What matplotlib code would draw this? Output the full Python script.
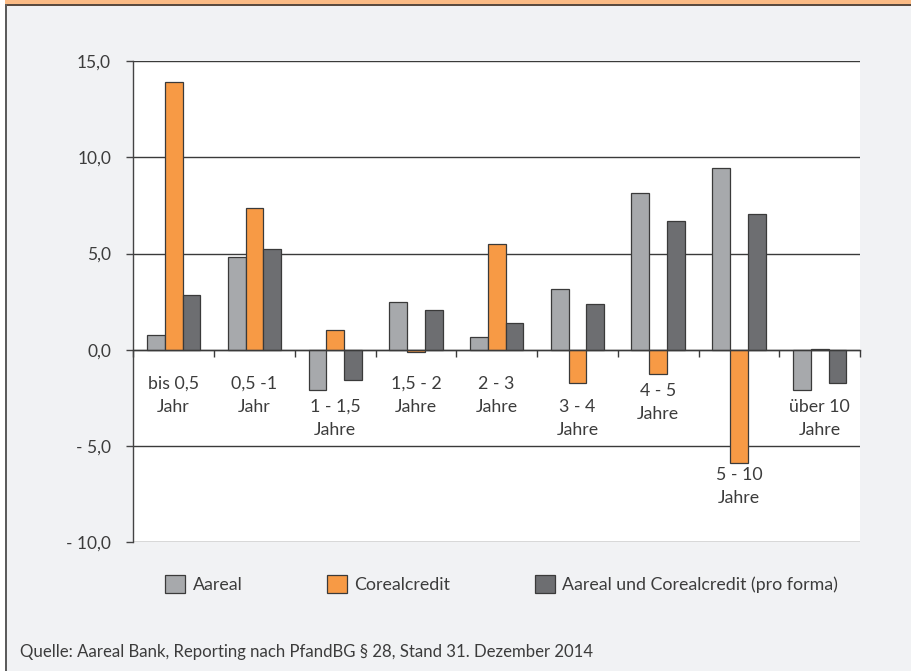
import matplotlib
matplotlib.use("Agg")
import matplotlib.pyplot as plt
from matplotlib.patches import Patch, Rectangle
import numpy as np

plt.rcParams['font.family'] = ['Lato', 'DejaVu Sans']

# categories (Restlaufzeit) and values in %
categories = ["bis 0,5\nJahr", "0,5 -1\nJahr", "1 - 1,5\nJahre", "1,5 - 2\nJahre",
              "2 - 3\nJahre", "3 - 4\nJahre", "4 - 5\nJahre", "5 - 10\nJahre",
              "über 10\nJahre"]
aareal = [0.78, 4.8, -2.08, 2.47, 0.64, 3.18, 8.16, 9.46, -2.08]
corealcredit = [13.9, 7.36, 1.04, -0.1, 5.52, -1.74, -1.25, -5.9, 0.05]
pro_forma = [2.83, 5.22, -1.58, 2.08, 1.4, 2.4, 6.68, 7.07, -1.74]
series_names = ["Aareal", "Corealcredit", "Aareal und Corealcredit (pro forma)"]
yticks = [-10, -5, 0, 5, 10, 15]

# layout: top of each category label (data units)
label_top = [-1.35, -1.35, -2.55, -1.35, -1.35, -2.55, -1.7, -6.1, -2.55]

colors = ["#a7a9ac", "#f79a45", "#6d6e71"]
edge = "#3a3a3a"
txt = "#3c3c3c"
bg = "#f1f2f4"

fig = plt.figure(figsize=(9.11, 6.71), dpi=100, facecolor="white")
W, H = 911.0, 671.0
# panel background, orange top band and frame lines
fig.patches.append(Rectangle((6 / W, 0), 1, 1 - 6 / H, transform=fig.transFigure,
                             facecolor=bg, edgecolor="none", zorder=-10))
fig.patches.append(Rectangle((5 / W, 1 - 4 / H), 1, 4 / H, transform=fig.transFigure,
                             facecolor="#fbbb85", edgecolor="none", zorder=-9))
fig.patches.append(Rectangle((5 / W, 1 - 6 / H), 1, 2 / H, transform=fig.transFigure,
                             facecolor="#5a4b40", edgecolor="none", zorder=-9))
fig.patches.append(Rectangle((4.5 / W, 0), 2 / W, 1 - 4 / H, transform=fig.transFigure,
                             facecolor="#5c5c5c", edgecolor="none", zorder=-9))

ax = fig.add_axes([133.3 / W, 1 - 542.3 / H, (860 - 133.3) / W, (542.3 - 61) / H])
ax.set_facecolor("white")

x = np.arange(len(categories))
w = 0.22
for i, (vals, c, name) in enumerate(zip([aareal, corealcredit, pro_forma], colors, series_names)):
    ax.bar(x + (i - 1) * w, vals, width=w, color=c, edgecolor=edge, linewidth=0.9,
           label=name, zorder=3)

ax.set_xlim(-0.5, len(categories) - 0.5)
ax.set_ylim(-10, 15)
ax.set_yticks(yticks)
ax.set_yticklabels([("- " if v < 0 else "") + f"{abs(v):.1f}".replace(".", ",") for v in yticks],
                   fontsize=12.5, color=txt)
ax.yaxis.grid(True, color="#3a3a3a", linewidth=1.0, zorder=1)
ax.set_axisbelow(True)

for s in ["top", "right"]:
    ax.spines[s].set_visible(False)
ax.spines["left"].set_color("#444444")
ax.spines["left"].set_linewidth(1.0)
ax.spines["bottom"].set_position(("data", 0))
ax.spines["bottom"].set_color("#3a3a3a")
ax.spines["bottom"].set_linewidth(1.0)
ax.spines["bottom"].set_zorder(4)

ax.set_xticks(np.arange(len(categories) + 1) - 0.5)
ax.set_xticklabels([])
ax.tick_params(axis="x", direction="out", length=5, width=1.0, color="#3a3a3a")
ax.tick_params(axis="y", direction="out", length=5, width=1.0, color="#444444", pad=11)

for xi, lab, yt in zip(x, categories, label_top):
    ax.text(xi, yt, lab, ha="center", va="top", fontsize=12.8, color=txt,
            linespacing=1.55)

handles = [Patch(facecolor=c, edgecolor=edge, linewidth=0.9) for c in colors]
fig.legend(handles, series_names, loc="center", bbox_to_anchor=(501.5 / W, 1 - 584 / H),
           ncol=3, frameon=False, fontsize=12.8, handlelength=1.15, handleheight=1.25,
           handletextpad=0.4, columnspacing=4.75, labelcolor=txt)

fig.text(20 / W, 1 - 652 / H,
         "Quelle: Aareal Bank, Reporting nach PfandBG § 28, Stand 31. Dezember 2014",
         ha="left", va="center", fontsize=12.1, color=txt)

fig.savefig("out.png", dpi=100, facecolor=fig.get_facecolor())
